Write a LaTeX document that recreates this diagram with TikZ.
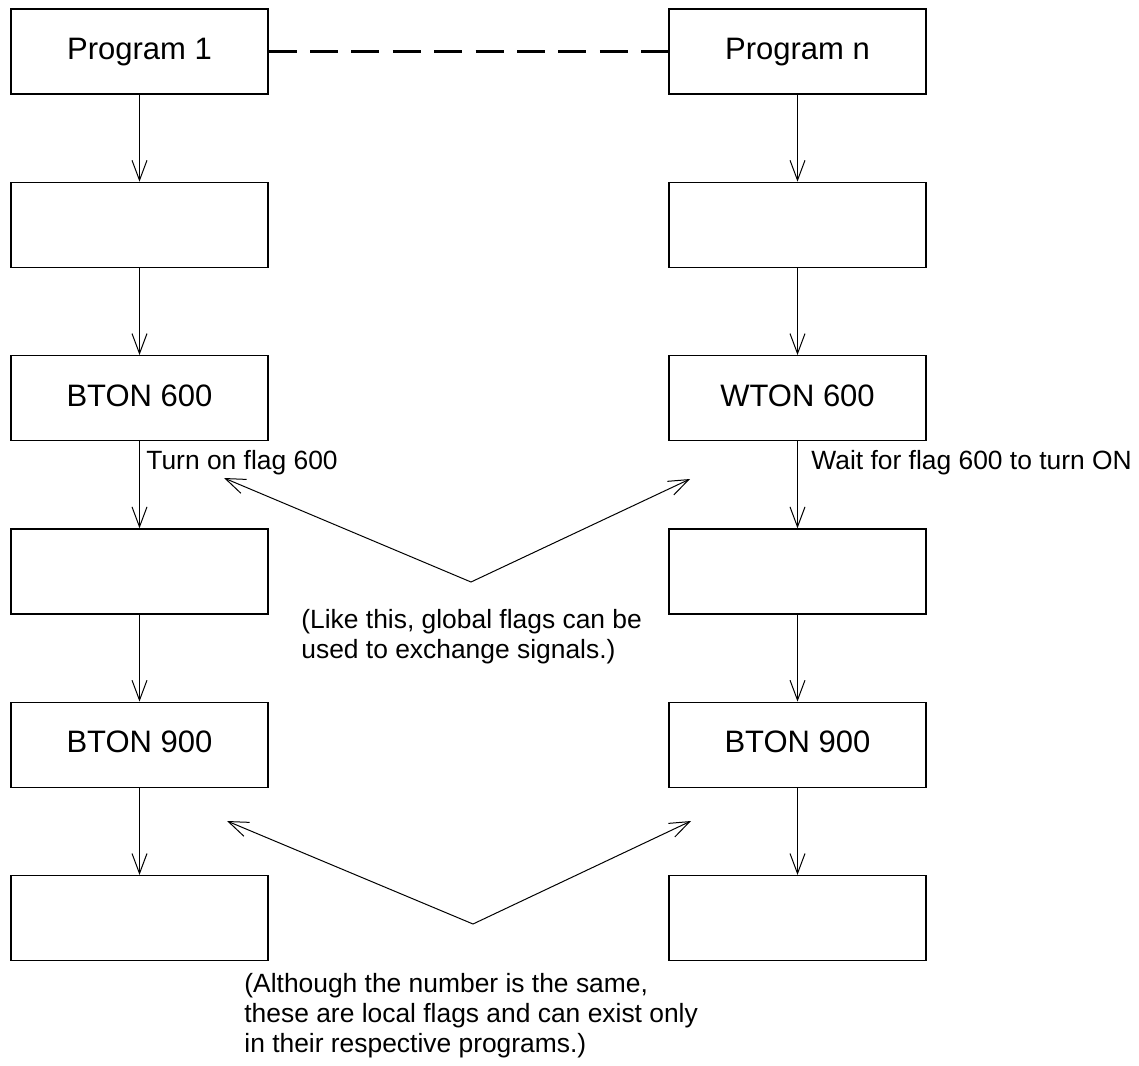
\documentclass[tikz,border=0pt]{standalone}
\usepackage{fontspec}
\setmainfont{Liberation Sans}
\usetikzlibrary{arrows.meta}

\begin{document}
\begin{tikzpicture}[x=0.5pt,y=-0.5pt,
  >={Straight Barb[length=10pt,width=7.5pt]},
  box/.style={draw,line width=0.6pt,minimum width=128.5pt,minimum height=42.5pt,inner sep=0pt,
    font=\fontsize{15.5}{18}\selectfont,text height=11.6pt,text depth=3.6pt},
  flow/.style={->,line width=0.5pt},
  link/.style={line width=1.3pt,dash pattern=on 14pt off 6.7pt},
  lbl/.style={inner sep=0pt,font=\fontsize{13.2}{15}\selectfont},
  note/.style={inner sep=0pt,align=left,font=\fontsize{13.2}{15}\selectfont}]
  \useasboundingbox (0,0) rectangle (1139,1065);
  % the two program columns
  \foreach \r/\a/\b in {1/Program 1/Program n,2//,3/BTON 600/WTON 600,4//,5/BTON 900/BTON 900,6//} {
    \pgfmathsetmacro{\y}{51.5+173.3*(\r-1)}
    \node[box] (l\r) at (139.5,\y) {\a};
    \node[box] (r\r) at (797.5,\y) {\b};
  }
  \foreach \r in {1,...,5} {
    \pgfmathtruncatemacro{\s}{\r+1}
    \draw[flow] (l\r) -- (l\s);
    \draw[flow] (r\r) -- (r\s);
  }
  \draw[link] (l1) -- (r1);

  \node[lbl,anchor=base west] (on600) at (146,469) {Turn on flag 600};
  \node[lbl,anchor=base west] (wait600) at (811,469) {Wait for flag 600 to turn ON};

  % global flags
  \coordinate (gv) at (471,582);
  \coordinate (gl) at (224,478);
  \coordinate (gr) at (690,479);
  \draw[<->,line width=0.5pt] (gl) -- (gv) -- (gr);
  \node[note,anchor=north west] (glob) at (301,609)
    {(Like this, global flags can be\\used to exchange signals.)};

  % local flags
  \coordinate (lv) at (473,924);
  \coordinate (ll) at (227,821);
  \coordinate (lr) at (691,821);
  \draw[<->,line width=0.5pt] (ll) -- (lv) -- (lr);
  \node[note,anchor=north west] (loc) at (244,973)
    {(Although the number is the same,\\these are local flags and can exist only\\in their respective programs.)};
\end{tikzpicture}
\end{document}
